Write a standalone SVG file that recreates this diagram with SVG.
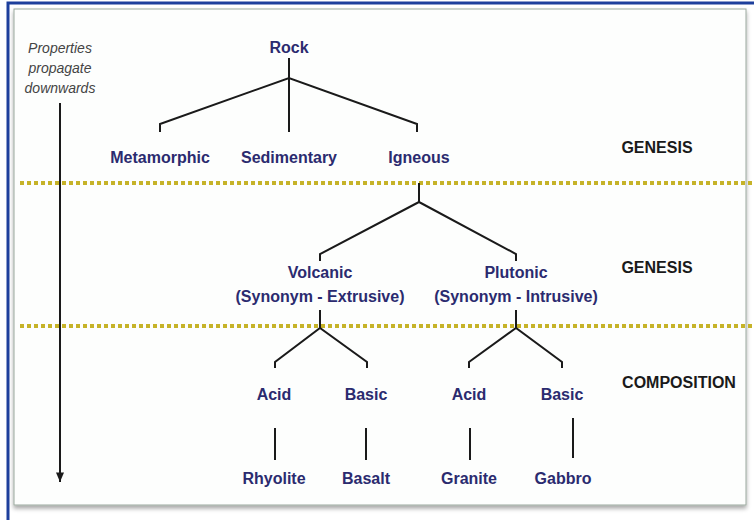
<svg xmlns="http://www.w3.org/2000/svg" width="754" height="520" viewBox="0 0 754 520">
<defs>
<style>
.n{font-family:"Liberation Sans",Arial,sans-serif;font-weight:bold;font-size:16px;fill:#2b2b6f;text-anchor:middle}
.lvl{font-family:"Liberation Sans",Arial,sans-serif;font-weight:bold;font-size:16px;fill:#1a1a1a;text-anchor:middle}
.note{font-family:"Liberation Sans",Arial,sans-serif;font-style:italic;font-size:14px;fill:#444;text-anchor:middle}
.c{fill:none;stroke:#1a1a1a;stroke-width:2;stroke-linejoin:miter}
.dot{stroke:#c6b328;stroke-width:4;stroke-dasharray:4 3}
</style>
<marker id="ah" viewBox="0 0 12 10" refX="12" refY="5" markerWidth="12" markerHeight="8" markerUnits="userSpaceOnUse" orient="auto">
<path d="M0,0 L12,5 L0,10 Z" fill="#1a1a1a"/>
</marker>
<filter id="sh" x="-5%" y="-5%" width="110%" height="110%">
<feDropShadow dx="0" dy="3" stdDeviation="2" flood-color="#000" flood-opacity="0.35"/>
</filter>
</defs>
<rect x="0" y="0" width="754" height="520" fill="#ffffff"/>
<path d="M8,520 L8,3 L754,3" fill="none" stroke="#1d3f9c" stroke-width="3"/>
<rect x="14" y="9" width="732" height="496" fill="#fdfefd" stroke="#9aa89e" stroke-width="1" filter="url(#sh)"/>

<g id="dividers">
<line class="dot" x1="20" y1="183" x2="752" y2="183"/>
<line class="dot" x1="20" y1="326" x2="752" y2="326"/>
</g>

<g id="connectors">
<path class="c" d="M289,58 V132 M160,132 V124 L289,78 L417,124 V132"/>
<path class="c" d="M419,183 V202 M320,261 V254 L419,202 L516,254 V261"/>
<path class="c" d="M320,310 V328 M275,368 V362 L320,328 L367,362 V368"/>
<path class="c" d="M516,310 V328 M469,368 V362 L516,328 L562,362 V368"/>
<path class="c" d="M275,428 V460 M366,428 V460 M470,428 V460 M573,418 V458"/>
<line x1="60" y1="103" x2="60" y2="482" stroke="#1a1a1a" stroke-width="2" marker-end="url(#ah)"/>
</g>

<g id="note"><text class="note"><tspan x="60" y="53">Properties</tspan><tspan x="60" y="73">propagate</tspan><tspan x="60" y="93">downwards</tspan></text></g>

<g id="rock"><text class="n" x="289" y="53">Rock</text></g>
<g id="metamorphic"><text class="n" x="160" y="163">Metamorphic</text></g>
<g id="sedimentary"><text class="n" x="289" y="163">Sedimentary</text></g>
<g id="igneous"><text class="n" x="419" y="163">Igneous</text></g>
<g id="volcanic"><text class="n" x="320" y="278">Volcanic</text><text class="n" x="320" y="302">(Synonym - Extrusive)</text></g>
<g id="plutonic"><text class="n" x="516" y="278">Plutonic</text><text class="n" x="516" y="302">(Synonym - Intrusive)</text></g>
<g id="acid1"><text class="n" x="274" y="400">Acid</text></g>
<g id="basic1"><text class="n" x="366" y="400">Basic</text></g>
<g id="acid2"><text class="n" x="469" y="400">Acid</text></g>
<g id="basic2"><text class="n" x="562" y="400">Basic</text></g>
<g id="rhyolite"><text class="n" x="274" y="484">Rhyolite</text></g>
<g id="basalt"><text class="n" x="366" y="484">Basalt</text></g>
<g id="granite"><text class="n" x="469" y="484">Granite</text></g>
<g id="gabbro"><text class="n" x="563" y="484">Gabbro</text></g>

<g id="levels">
<text class="lvl" x="657" y="153">GENESIS</text>
<text class="lvl" x="657" y="273">GENESIS</text>
<text class="lvl" x="679" y="388">COMPOSITION</text>
</g>
</svg>
